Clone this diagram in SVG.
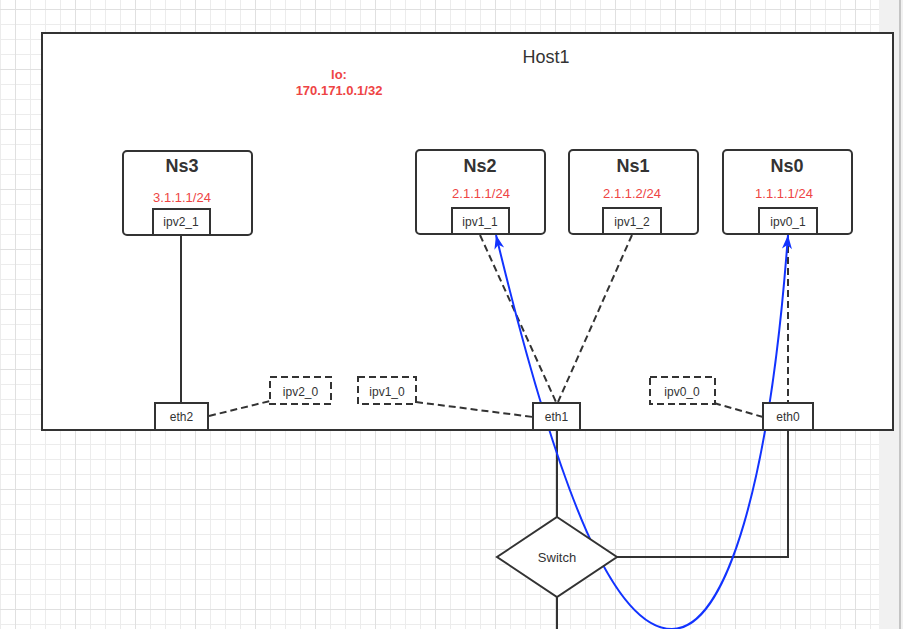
<svg xmlns="http://www.w3.org/2000/svg" width="903" height="629" viewBox="0 0 903 629">
<style>
text{font-family:"Liberation Sans",Arial,sans-serif;fill:#333;text-anchor:middle}
.box{fill:#fff;stroke:#333;stroke-width:2}
.dbox{fill:#fff;stroke:#333;stroke-width:2;stroke-dasharray:7 4}
.ln{fill:none;stroke:#333;stroke-width:2}
.dl{fill:none;stroke:#333;stroke-width:2;stroke-dasharray:7 4}
.bl{fill:none;stroke:#1233ff;stroke-width:2}
.title{font-size:18px;font-weight:bold}
.ip{font-size:13px;fill:#ee4444}
.lbl{font-size:12px}
</style>
<defs>
<pattern id="gMinor" patternUnits="userSpaceOnUse" x="0" y="9" width="15" height="15">
<rect x="0" y="0" width="15" height="1" fill="#ececec"/>
<rect x="0" y="0" width="1" height="15" fill="#ececec"/>
</pattern>
<pattern id="gMajor" patternUnits="userSpaceOnUse" x="15" y="9" width="60" height="60">
<rect x="0" y="0" width="60" height="1" fill="#e0e0e0"/>
<rect x="0" y="0" width="1" height="60" fill="#e0e0e0"/>
</pattern>
<marker id="arr" markerUnits="userSpaceOnUse" markerWidth="16" markerHeight="12" viewBox="-15 -6 16 12" refX="0" refY="0" orient="auto">
<path d="M0,0 L-14,-5 L-10,0 L-14,5 Z" fill="#1233ff"/>
</marker>
</defs>
<rect x="0" y="0" width="903" height="629" fill="#fff"/>
<rect x="0" y="0" width="879" height="629" fill="url(#gMinor)"/>
<rect x="0" y="0" width="879" height="629" fill="url(#gMajor)"/>
<rect x="879" y="0" width="24" height="629" fill="#f1f1f1"/>
<rect x="899" y="0" width="2" height="629" fill="#c4c4c4"/>

<g id="host1">
<rect class="box" x="42" y="33" width="851" height="397"/>
<text x="546" y="63" style="font-size:18px">Host1</text>
<text x="339" y="79" class="ip" style="font-weight:bold">lo:</text>
<text x="339" y="95" class="ip" style="font-weight:bold">170.171.0.1/32</text>
</g>

<g id="ns3">
<rect class="box" x="123" y="151" width="129" height="84" rx="4"/>
<text x="182" y="172" class="title">Ns3</text>
<text x="182" y="202" class="ip">3.1.1.1/24</text>
</g>
<g id="ipv2_1">
<rect class="box" x="153" y="209" width="57" height="26"/>
<text x="181" y="226" class="lbl">ipv2_1</text>
</g>

<g id="ns2">
<rect class="box" x="416" y="150" width="129" height="84" rx="4"/>
<text x="480" y="172" class="title">Ns2</text>
<text x="481" y="198" class="ip">2.1.1.1/24</text>
</g>
<g id="ipv1_1">
<rect class="box" x="452" y="208" width="57" height="26"/>
<text x="480" y="226" class="lbl">ipv1_1</text>
</g>

<g id="ns1">
<rect class="box" x="569" y="150" width="129" height="84" rx="4"/>
<text x="633" y="172" class="title">Ns1</text>
<text x="632" y="198" class="ip">2.1.1.2/24</text>
</g>
<g id="ipv1_2">
<rect class="box" x="603" y="208" width="58" height="26"/>
<text x="632" y="226" class="lbl">ipv1_2</text>
</g>

<g id="ns0">
<rect class="box" x="723" y="150" width="129" height="84" rx="4"/>
<text x="787" y="172" class="title">Ns0</text>
<text x="784" y="198" class="ip">1.1.1.1/24</text>
</g>
<g id="ipv0_1">
<rect class="box" x="759" y="208" width="58" height="26"/>
<text x="788" y="226" class="lbl">ipv0_1</text>
</g>

<g id="ipv2_0">
<rect class="dbox" x="270" y="377" width="61" height="27"/>
<text x="300.5" y="396" class="lbl">ipv2_0</text>
</g>
<g id="ipv1_0">
<rect class="dbox" x="358" y="377" width="58" height="27"/>
<text x="387" y="396" class="lbl">ipv1_0</text>
</g>
<g id="ipv0_0">
<rect class="dbox" x="650" y="377" width="65" height="27"/>
<text x="682" y="396" class="lbl">ipv0_0</text>
</g>

<g id="connectors">
<path class="ln" d="M181 235 V403"/>
<path class="dl" d="M209 416 L270 401"/>
<path class="dl" d="M416 402 L533 417"/>
<path class="dl" d="M480 235 L556 402"/>
<path class="dl" d="M632 235 L558 402"/>
<path class="dl" d="M788 235 V403"/>
<path class="dl" d="M714 403 L763 417"/>
<path class="ln" d="M557 430 V517"/>
<path class="ln" d="M617 557 H788 V430"/>
<path class="ln" d="M557 597 V629"/>
<path class="bl" marker-end="url(#arr)" d="M672 629 C615 629 560 500 496 235"/>
<path class="bl" marker-end="url(#arr)" d="M672 629 C727 629 770 480 788 235"/>
</g>

<g id="eth2">
<rect class="box" x="155" y="403" width="53" height="27"/>
<text x="181.5" y="421" class="lbl">eth2</text>
</g>
<g id="eth1">
<rect class="box" x="533" y="403" width="47" height="27"/>
<text x="556.5" y="421" class="lbl">eth1</text>
</g>
<g id="eth0">
<rect class="box" x="763" y="403" width="50" height="27"/>
<text x="788" y="421" class="lbl">eth0</text>
</g>
<g id="switch">
<path class="box" d="M557 517 L617 557 L557 597 L497 557 Z"/>
<text x="557" y="562" style="font-size:13px">Switch</text>
</g>
</svg>
